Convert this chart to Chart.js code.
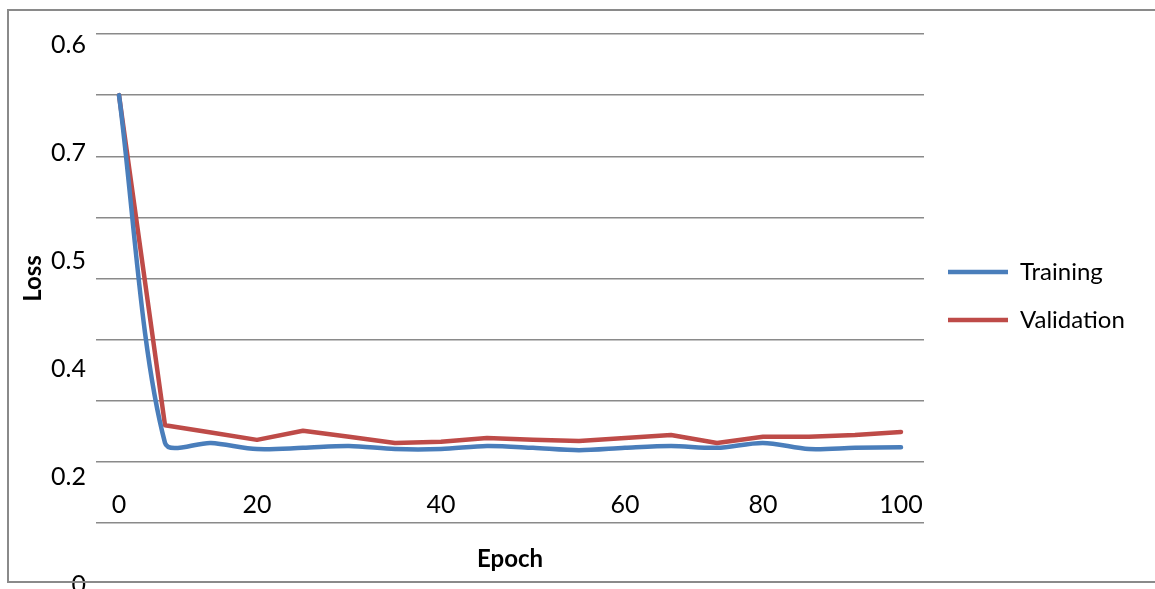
<!DOCTYPE html>
<html lang="en">
<head>
  <meta charset="UTF-8" />
  <title>Loss per epoch</title>
  <script src="https://cdn.jsdelivr.net/npm/chart.js"></script>
  <style>
    body {
      margin: 0;
      padding: 0;
      background: #fff;
      overflow: hidden;
    }
    .wrap {
      position: relative;
      width: 1155px;
      height: 589px;
    }
    .frame {
      position: absolute;
      left: 7px;
      top: 9px;
      width: 1200px;
      height: 570px;
      border: 2px solid #8a8a8a;
      pointer-events: none;
    }
  </style>
</head>
<body>
  <div class="wrap">
    <canvas id="chartLoss"></canvas>
    <div class="frame"></div>
  </div>

  <script>
    // categories (epoch labels, only some are printed)
    const xLabels = ['0', '', '', '20', '', '', '', '40', '', '', '', '60', '', '', '80', '', '', '100'];
    // y labels as printed on the left, bottom to top
    const yLabels = ['0', '0.2', '0.4', '0.5', '0.7', '0.6'];

    const training   = [0.700, 0.131, 0.131, 0.121, 0.123, 0.126, 0.121, 0.121, 0.126, 0.123, 0.119, 0.123, 0.126, 0.123, 0.131, 0.121, 0.123, 0.124];
    const validation = [0.700, 0.160, 0.148, 0.136, 0.151, 0.141, 0.131, 0.133, 0.139, 0.136, 0.134, 0.139, 0.144, 0.131, 0.141, 0.141, 0.144, 0.149];

    Chart.defaults.font.family = 'Lato, "Open Sans", sans-serif';
    Chart.defaults.color = '#000';

    const chartLoss = new Chart(document.getElementById('chartLoss').getContext('2d'), {
      type: 'line',
      data: {
        labels: xLabels,
        datasets: [
          { label: 'Training', data: training, borderColor: '#4a7ebb', backgroundColor: '#4a7ebb',
            borderWidth: 4.5, borderCapStyle: 'round', borderJoinStyle: 'round', pointRadius: 0, tension: 0.3, fill: false },
          { label: 'Validation', data: validation, borderColor: '#be4b48', backgroundColor: '#be4b48',
            borderWidth: 4.5, borderCapStyle: 'round', borderJoinStyle: 'round', pointRadius: 0, tension: 0, fill: false }
        ]
      },
      options: {
        responsive: true,
        maintainAspectRatio: false,
        animation: false,
        layout: { padding: { top: 34, bottom: 31, left: 0, right: 21 } },
        plugins: {
          tooltip: { enabled: false },
          legend: {
            position: 'right',
            maxWidth: 210,
            labels: {
              usePointStyle: true,
              pointStyle: 'line',
              pointStyleWidth: 60,
              padding: 24,
              font: { size: 24 },
              color: '#000'
            }
          }
        },
        scales: {
          x: {
            offset: true,
            grid: { display: false },
            border: { display: false },
            ticks: { autoSkip: false, maxRotation: 0, mirror: true, padding: 3, font: { size: 25 } },
            title: { display: true, text: 'Epoch', font: { size: 24, weight: 'bold' }, padding: { top: 0, bottom: -16 } },
            afterFit: s => { s.height = 35; }
          },
          y: {
            min: 0,
            max: 0.8,
            position: 'left',
            ticks: { display: false, stepSize: 0.1 },
            grid: { color: '#8a8a8a', lineWidth: 1.5, drawTicks: false },
            border: { display: false },
            afterFit: s => { s.width = 0; }
          },
          yl: {
            type: 'linear',
            position: 'left',
            min: 0.574,
            max: 5.102,
            grid: { display: false, drawTicks: false },
            border: { display: false },
            ticks: {
              autoSkip: false,
              padding: 10,
              font: { size: 25 },
              callback: (v, i) => yLabels[i]
            },
            afterBuildTicks: s => { s.ticks = yLabels.map((_, i) => ({ value: i })); },
            title: { display: true, text: 'Loss', font: { size: 24, weight: 'bold' }, padding: { top: 19, bottom: 0 } },
            afterFit: s => { s.width = 96; }
          }
        }
      }
    });
  </script>
</body>
</html>
